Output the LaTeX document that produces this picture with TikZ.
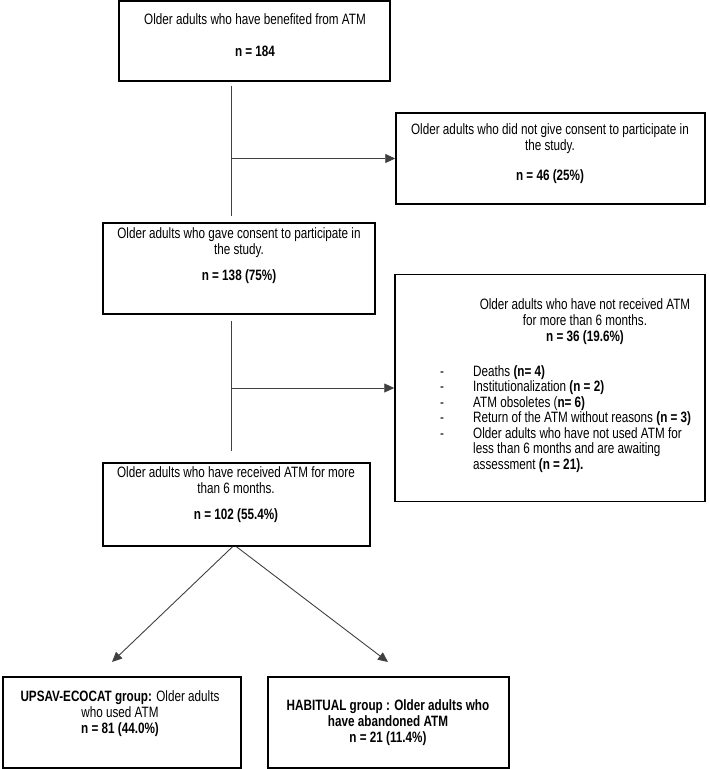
\documentclass[tikz,border=0pt]{standalone}
\usepackage{fontspec}
\setmainfont{Liberation Sans}[FakeStretch=0.78]
\usepackage{tikz}
\usetikzlibrary{arrows.meta,positioning,calc}

\begin{document}
\begin{tikzpicture}[x=1pt, y=-1pt,
  box/.style={draw, line width=1.5pt, inner sep=0pt},
  txt/.style={inner sep=0pt, align=center, font=\fontsize{15}{16}\selectfont},
  link/.style={draw=black!75, line width=0.9pt},
  arrow/.style={link, -{Triangle[length=10pt,width=9pt]}}]
\useasboundingbox (0,0) rectangle (710,769);

% boxes of the flow chart
\node[box, minimum width=271pt, minimum height=80pt] (b1) at (254.5,41) {};
\node[box, minimum width=309pt, minimum height=91pt] (b46) at (550.5,158.5) {};
\node[box, minimum width=272pt, minimum height=91pt] (b2) at (239,268.5) {};
\node[box, minimum width=310pt, minimum height=227pt] (b36) at (550,388) {};
\node[box, minimum width=267pt, minimum height=83pt] (b3) at (236.5,504.5) {};
\node[box, minimum width=238pt, minimum height=91pt] (b4) at (122,722.5) {};
\node[box, minimum width=241pt, minimum height=91pt] (b5) at (388.5,722.5) {};

% texts
\node[txt] (t1) at (255,35) {Older adults who have benefited from ATM\\[16pt]\textbf{n = 184}};
\node[txt] (t46) at (550,154) {Older adults who did not give consent to participate in\\the study.\\[14pt]\textbf{n = 46 (25\%)}};
\node[txt] (t2) at (239,256) {Older adults who gave consent to participate in\\the study.\\[10pt]\textbf{n = 138 (75\%)}};
\node[txt] (t36) at (585,322) {Older adults who have not received ATM\\for more than 6 months.\\\textbf{n = 36 (19.6\%)}};
\node[txt, anchor=north west, align=left, font=\fontsize{15}{15.5}\selectfont] (l36) at (440,365) {%
  \begin{tabular}{@{}p{33pt}@{}l@{}}
  - & Deaths \textbf{(n= 4)}\\
  - & Institutionalization \textbf{(n = 2)}\\
  - & ATM obsoletes (\textbf{n= 6)}\\
  - & Return of the ATM without reasons \textbf{(n = 3)}\\
  - & Older adults who have not used ATM for\\
    & less than 6 months and are awaiting\\
    & assessment \textbf{(n = 21).}
  \end{tabular}};
\node[txt] (t3) at (236,495) {Older adults who have received ATM for more\\than 6 months.\\[10pt]\textbf{n = 102 (55.4\%)}};
\node[txt] (t4) at (120,714) {\textbf{UPSAV-ECOCAT group:} Older adults\\who used ATM\\\textbf{n = 81 (44.0\%)}};
\node[txt] (t5) at (388,723) {\textbf{HABITUAL group : Older adults who}\\\textbf{have abandoned ATM}\\\textbf{n = 21 (11.4\%)}};

% connectors
\coordinate (v1) at (231,0);
\coordinate (e4) at (112,662);
\coordinate (e5) at (388,662);
\draw[link] ([yshift=-4pt]b1.south -| v1) -- ([yshift=6pt]b2.north -| v1);
\draw[arrow] (b46.west -| v1) -- (b46.west);
\draw[link] ([yshift=-6pt]b2.south -| v1) -- ([yshift=11pt]b3.north -| v1);
\draw[arrow] (b36.west -| v1) -- (b36.west);
\draw[arrow] ([xshift=-4pt]b3.south) -- (e4);
\draw[arrow] (b3.south) -- (e5);
\end{tikzpicture}
\end{document}
